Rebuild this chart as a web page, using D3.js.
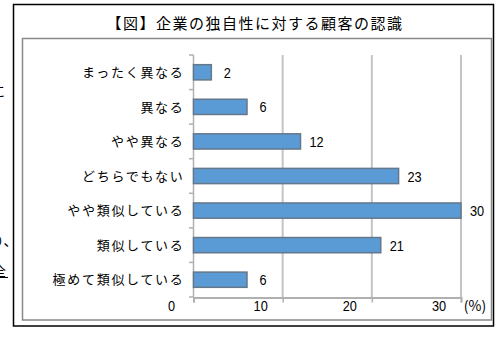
<!DOCTYPE html>
<html><head><meta charset="utf-8">
<script src="https://cdn.jsdelivr.net/npm/d3@7"></script>
<style>
html,body{margin:0;padding:0;background:#fff;}
svg{display:block;}
</style></head>
<body>
<svg id="c" width="498" height="340"></svg>
<script>
const title = "【図】企業の独自性に対する顧客の認識";
const categories = ["まったく異なる","異なる","やや異なる","どちらでもない","やや類似している","類似している","極めて類似している"];
const values = [2, 6, 12, 23, 30, 21, 6];
const xTicks = [0, 10, 20, 30];
const unitLabel = "(%)";

const svg = d3.select("#c");
const jp = "'Noto Sans CJK JP','Noto Sans CJK SC',sans-serif";
const num = "'Liberation Sans Narrow','Liberation Sans',sans-serif";

// stray fragments of surrounding document text (clipped at left edge, as in the reference)
svg.append("text").attr("x",-9).attr("y",96).attr("font-family",jp).attr("font-size",14).text("に");
svg.append("text").attr("x",-10).attr("y",246).attr("font-family",jp).attr("font-size",14).text("り、");
svg.append("text").attr("x",-8).attr("y",276).attr("font-family",jp).attr("font-size",14).text("全");
svg.append("line").attr("x1",0).attr("x2",8).attr("y1",277.5).attr("y2",277.5).attr("stroke","#000");

// outer frame
svg.append("rect").attr("x",13.5).attr("y",4.5).attr("width",480).attr("height",321.5)
  .attr("fill","none").attr("stroke","#000").attr("stroke-width",1.5);
// inner plot frame
svg.append("rect").attr("x",22.5).attr("y",38.5).attr("width",469).attr("height",281.5)
  .attr("fill","none").attr("stroke","#888").attr("stroke-width",1.5);

svg.append("text").attr("x",255).attr("y",29).attr("text-anchor","middle")
  .attr("font-family",jp).attr("font-size",15).attr("letter-spacing","1.5px").text(title);

const x = d3.scaleLinear().domain([0,30]).range([193.5,461]);
const y = d3.scaleBand().domain(categories).range([55,297]).paddingInner(0.56).paddingOuter(0.28);

// gridlines
svg.append("g").selectAll("line").data(xTicks.slice(1)).join("line")
  .attr("x1",d=>x(d)).attr("x2",d=>x(d)).attr("y1",55).attr("y2",297)
  .attr("stroke","#c4c4c4").attr("stroke-width",2);

// bottom axis
const xAxis = svg.append("g").attr("transform","translate(0,297.5)")
  .call(d3.axisBottom(x).tickValues(xTicks).tickSize(5).tickFormat(""));
xAxis.select(".domain").attr("stroke","#b0b0b0").attr("stroke-width",2);
xAxis.selectAll(".tick line").attr("stroke","#b0b0b0").attr("stroke-width",1.5);
svg.append("g").selectAll("text").data(xTicks).join("text")
  .attr("transform",d=>`translate(${x(d)-22},311) scale(0.85,1)`).attr("text-anchor","middle")
  .attr("font-family",num).attr("font-size",15).text(d=>d);
svg.append("text").attr("x",475).attr("y",311).attr("text-anchor","middle")
  .attr("font-family",jp).attr("font-size",14).text(unitLabel);

// left category axis
const step = y.step();
const boundaries = d3.range(categories.length+1).map(i=>55+i*step);
svg.append("line").attr("x1",193.5).attr("x2",193.5).attr("y1",55).attr("y2",297)
  .attr("stroke","#b0b0b0").attr("stroke-width",1.5);
svg.append("g").selectAll("line").data(boundaries).join("line")
  .attr("x1",189).attr("x2",193.5).attr("y1",d=>d).attr("y2",d=>d)
  .attr("stroke","#b0b0b0").attr("stroke-width",1.5);
svg.append("g").selectAll("text").data(categories).join("text")
  .attr("x",184.5).attr("y",d=>y(d)+y.bandwidth()/2).attr("dy","0.36em")
  .attr("text-anchor","end").attr("font-family",jp).attr("font-size",13).attr("letter-spacing","1.7px")
  .text(d=>d);

// bars
svg.append("g").selectAll("rect").data(values).join("rect")
  .attr("x",x(0)).attr("y",(d,i)=>y(categories[i]))
  .attr("width",d=>x(d)-x(0)).attr("height",y.bandwidth())
  .attr("fill","#5b9bd5").attr("stroke","#65778a").attr("stroke-width",1.5);

// value labels
svg.append("g").selectAll("text").data(values).join("text")
  .attr("transform",(d,i)=>`translate(${x(d)+16},${y(categories[i])+y.bandwidth()/2+5.5}) scale(0.85,1)`)
  .attr("text-anchor","middle").attr("font-family",num).attr("font-size",15).text(d=>d);
</script>
</body></html>
